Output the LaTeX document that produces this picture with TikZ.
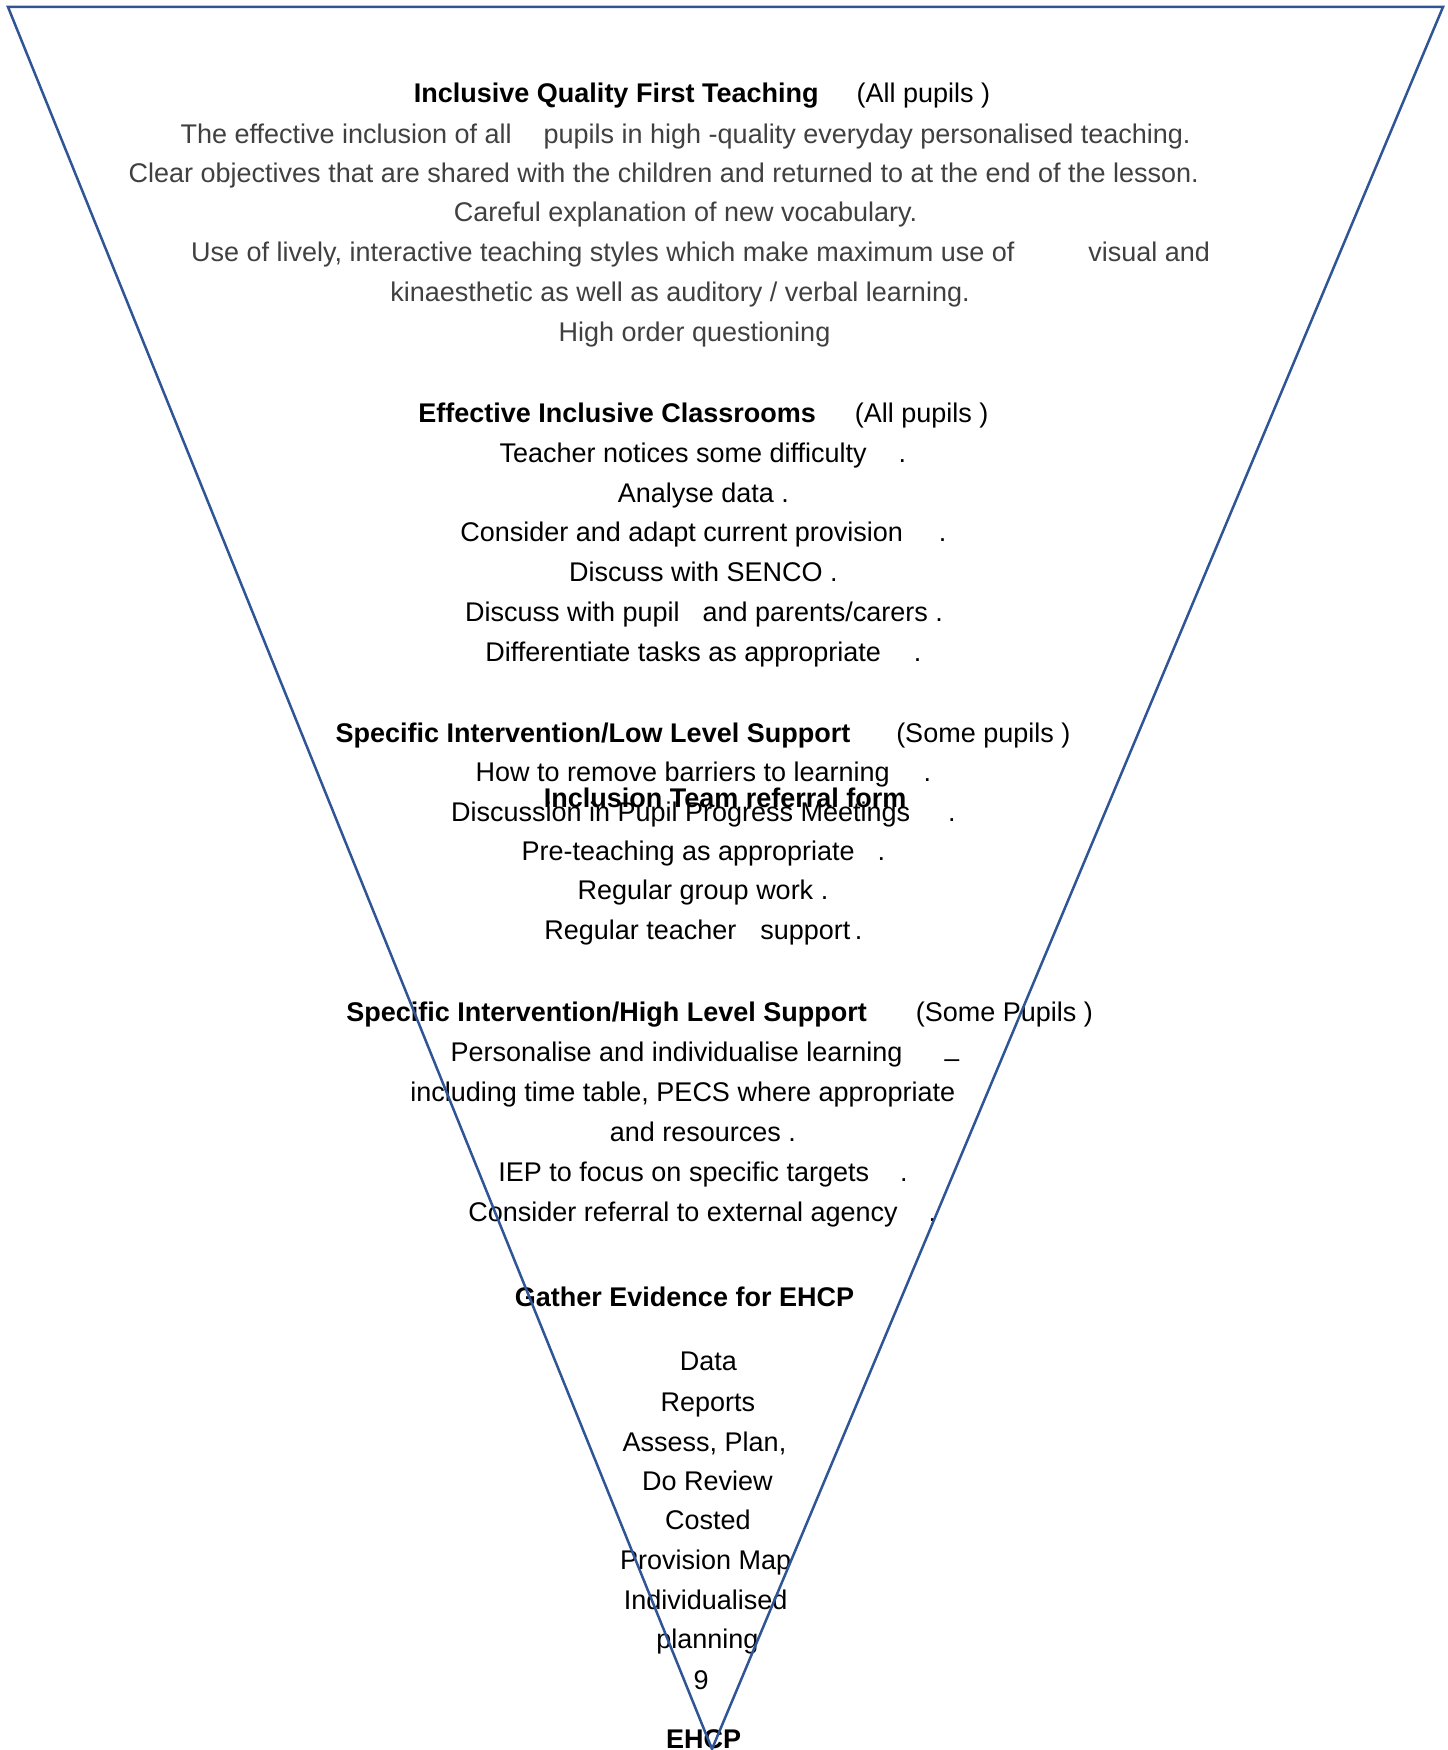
\documentclass[tikz,border=0pt]{standalone}
\usepackage{fontspec}
\setmainfont{Liberation Sans}
\definecolor{funnelblue}{RGB}{47,85,151}
\definecolor{txtgrey}{RGB}{64,64,64}
\begin{document}
\begin{tikzpicture}[x=0.5pt,y=-0.5pt,
  tx/.style={anchor=base, inner sep=0pt, text=black, font=\fontsize{13.5}{16}\selectfont},
  gtx/.style={tx, text=txtgrey},
  funnel/.style={draw=funnelblue, line width=1.25pt, line join=miter}]
\useasboundingbox (0,0) rectangle (1447,1750);
\clip (0,0) rectangle (1447,1750);
% Section 1
\node[tx] (s1h) at (702,103) {\textbf{Inclusive Quality First Teaching}\hspace{19pt}(All pupils )};
\node[gtx] (s1a) at (685.6,143.5) {The effective inclusion of all\hspace{16pt}pupils in high -quality everyday personalised teaching.};
\node[gtx] (s1b) at (663.8,183) {Clear objectives that are shared with the children and returned to at the end of the lesson.};
\node[gtx] (s1c) at (685.6,221.5) {Careful explanation of new vocabulary.};
\node[gtx] (s1d) at (700.6,261.5) {Use of lively, interactive teaching styles which make maximum use of\hspace{37pt}visual and};
\node[gtx] (s1e) at (680,301.5) {kinaesthetic as well as auditory / verbal learning.};
\node[gtx] (s1f) at (694.5,341) {High order questioning};
% Section 2
\node[tx] (s2h) at (703.4,422) {\textbf{Effective Inclusive Classrooms}\hspace{19.5pt}(All pupils )};
\node[tx] (s2a) at (702.9,462.5) {Teacher notices some difficulty\hspace{16pt}.};
\node[tx] (s2b) at (703.4,502) {Analyse data .};
\node[tx] (s2c) at (703.4,541.5) {Consider and adapt current provision\hspace{18pt}.};
\node[tx] (s2d) at (703.4,581) {Discuss with SENCO .};
\node[tx] (s2e) at (704,621) {Discuss with pupil\hspace{11.5pt}and parents/carers .};
\node[tx] (s2f) at (703.4,661) {Differentiate tasks as appropriate\hspace{16.5pt}.};
% Section 3
\node[tx] (s3h) at (703,742) {\textbf{Specific Intervention/Low Level Support}\hspace{23pt}(Some pupils )};
\node[tx] (s3a) at (703.4,781.5) {How to remove barriers to learning\hspace{17pt}.};
\node[tx] (s3b) at (703.4,821.5) {Discussion in Pupil Progress Meetings\hspace{19pt}.};
\node[tx] (s3x) at (725.2,807.5) {\textbf{Inclusion Team referral form}};
\node[tx] (s3c) at (703.4,860) {Pre-teaching as appropriate\hspace{11.5pt}.};
\node[tx] (s3d) at (703,899) {Regular group work .};
\node[tx] (s3e) at (703.4,939) {Regular teacher\hspace{12pt}support\,.};
% Section 4
\node[tx] (s4h) at (719.6,1021) {\textbf{Specific Intervention/High Level Support}\hspace{24.5pt}(Some Pupils )};
\node[tx] (s4a) at (705.1,1061) {Personalise and individualise learning\hspace{21pt}\raisebox{-0.25em}{–}};
\node[tx] (s4b) at (682.8,1101) {including time table, PECS where appropriate};
\node[tx] (s4c) at (702.9,1141) {and resources .};
\node[tx] (s4d) at (703,1181) {IEP to focus on specific targets\hspace{15.5pt}.};
\node[tx] (s4e) at (702.3,1221) {Consider referral to external agency\hspace{15.5pt}.};
% Section 5
\node[tx] (s5h) at (684.5,1306.5) {\textbf{Gather Evidence for EHCP}};
\node[tx] (s5a) at (708.4,1370) {Data};
\node[tx] (s5b) at (707.9,1411.5) {Reports};
\node[tx] (s5c) at (704.5,1451.5) {Assess, Plan,};
\node[tx] (s5d) at (707.3,1490.5) {Do Review};
\node[tx] (s5e) at (707.9,1529.5) {Costed};
\node[tx] (s5f) at (705.6,1569.5) {Provision Map};
\node[tx] (s5g) at (705.6,1609.5) {Individualised};
\node[tx] (s5i) at (707.3,1648.5) {planning};
\node[tx] (s5n) at (701,1689) {9};
\node[tx] (s5z) at (703.5,1748.5) {\textbf{EHCP}};
% Funnel
\coordinate (tl) at (8,7);
\coordinate (tr) at (1443,7);
\coordinate (ap) at (712,1749);
\draw[funnel] (tl) -- (tr) -- (ap) -- cycle;
\end{tikzpicture}
\end{document}
